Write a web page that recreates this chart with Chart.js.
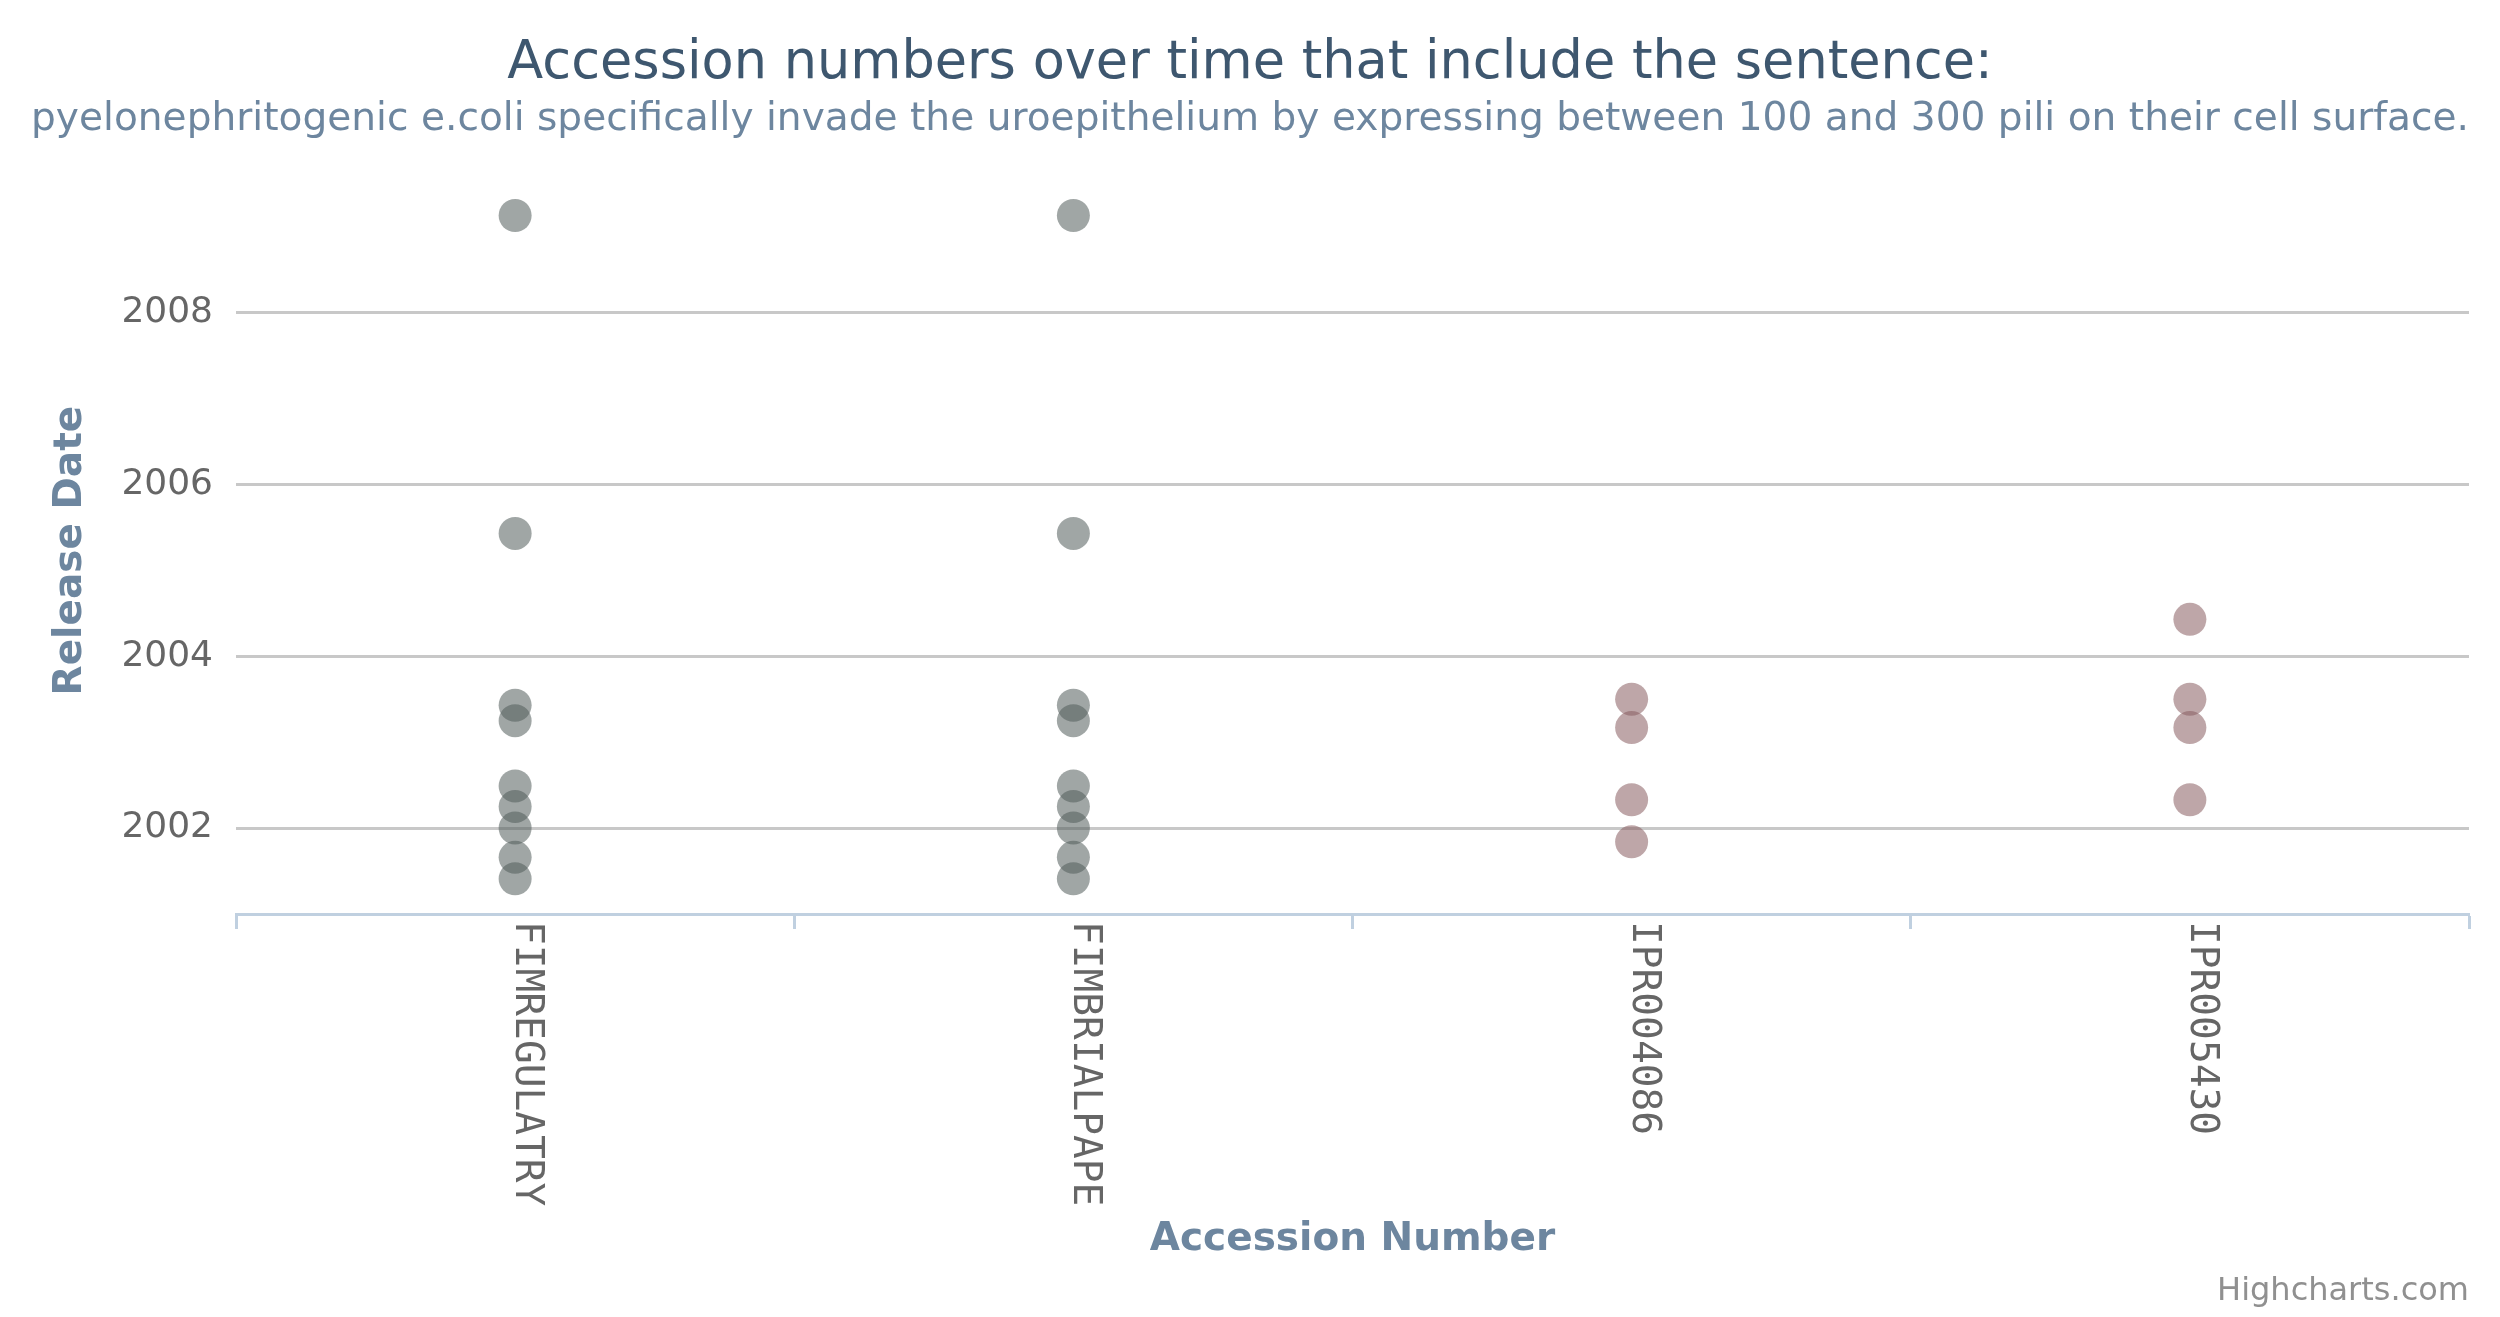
<!DOCTYPE html>
<html>
<head>
<meta charset="utf-8">
<script src="https://cdn.jsdelivr.net/npm/chart.js@4.4.1/dist/chart.umd.min.js"></script>
<style>
  body { margin: 0; background: #ffffff; }
  #wrap { width: 2500px; height: 1317px; }
</style>
</head>
<body>
<div id="wrap"><canvas id="grafico" width="2500" height="1317"></canvas></div>
<script>
// Data (release dates as decimal years)
const categories = ["FIMREGULATRY", "FIMBRIALPAPE", "IPR004086", "IPR005430"];
const fimregulatryDates = [2009.13, 2005.43, 2003.43, 2003.25, 2002.49, 2002.25, 2002.0, 2001.66, 2001.41];
const fimbrialpapeDates = [2009.13, 2005.43, 2003.43, 2003.25, 2002.49, 2002.25, 2002.0, 2001.66, 2001.41];
const ipr004086Dates = [2003.50, 2003.17, 2002.33, 2001.84];
const ipr005430Dates = [2004.43, 2003.50, 2003.17, 2002.33];
const yearTicks = [2002, 2004, 2006, 2008];

const FONT = "'DejaVu Sans', Verdana, sans-serif";

function points(cat, dates) {
  return dates.map(d => ({ x: cat, y: d }));
}

// x labels are drawn top-to-bottom like the original, plus the credits line
const extras = {
  id: "extras",
  afterDraw(chart) {
    const ctx = chart.ctx;
    const xs = chart.scales.x;
    ctx.save();
    ctx.fillStyle = "#666666";
    ctx.font = "39.5px 'DejaVu Sans Mono', monospace";
    ctx.textAlign = "left";
    ctx.textBaseline = "alphabetic";
    categories.forEach((c, i) => {
      ctx.save();
      ctx.translate(xs.getPixelForTick(i) + 1, xs.top + 7);
      ctx.rotate(Math.PI / 2);
      ctx.fillText(c, 0, 0);
      ctx.restore();
    });
    ctx.font = "32px " + FONT;
    ctx.fillStyle = "#909090";
    ctx.textAlign = "right";
    ctx.fillText("Highcharts.com", 2469, 1300);
    ctx.restore();
  }
};

new Chart(document.getElementById("grafico"), {
  type: "scatter",
  data: {
    labels: categories,
    datasets: [
      {
        label: "Fimbrial",
        data: points(categories[0], fimregulatryDates).concat(points(categories[1], fimbrialpapeDates)),
        backgroundColor: "rgba(82, 93, 91, 0.55)",
        borderWidth: 0,
        pointRadius: 16.5,
        pointHoverRadius: 16.5
      },
      {
        label: "InterPro",
        data: points(categories[2], ipr004086Dates).concat(points(categories[3], ipr005430Dates)),
        backgroundColor: "rgba(137, 93, 96, 0.55)",
        borderWidth: 0,
        pointRadius: 16.5,
        pointHoverRadius: 16.5
      }
    ]
  },
  options: {
    responsive: false,
    animation: false,
    devicePixelRatio: 1,
    layout: { padding: { top: 33, right: 31, bottom: 0, left: 31 } },
    scales: {
      x: {
        type: "category",
        labels: categories,
        offset: true,
        afterFit(s) { s.height = 403; },
        ticks: { display: false },
        grid: {
          offset: true,
          drawOnChartArea: false,
          drawTicks: true,
          tickLength: 15,
          tickWidth: 3,
          tickColor: "#C0D0E0"
        },
        border: { display: true, color: "#C0D0E0", width: 3 },
        title: {
          display: true,
          text: "Accession Number",
          color: "#6D869F",
          font: { family: FONT, size: 39, weight: "bold" },
          padding: { top: 0, bottom: 54 }
        }
      },
      y: {
        type: "linear",
        min: 2001,
        max: 2009.46,
        afterFit(s) { s.width = 205; },
        afterBuildTicks(s) { s.ticks = yearTicks.map(v => ({ value: v })); },
        ticks: {
          color: "#666666",
          font: { family: FONT, size: 36 },
          padding: 23,
          callback: v => String(v)
        },
        grid: { color: "#C8C8C8", lineWidth: 3, drawTicks: false },
        border: { display: false },
        title: {
          display: true,
          text: "Release Date",
          color: "#6D869F",
          font: { family: FONT, size: 39, weight: "bold" },
          padding: { top: 16, bottom: 0 }
        }
      }
    },
    plugins: {
      legend: { display: false },
      tooltip: { enabled: false },
      title: {
        display: true,
        text: "Accession numbers over time that include the sentence:",
        color: "#3E576F",
        font: { family: FONT, size: 52.5, weight: "normal" },
        padding: { top: 0, bottom: 0 }
      },
      subtitle: {
        display: true,
        text: "pyelonephritogenic e.coli specifically invade the uroepithelium by expressing between 100 and 300 pili on their cell surface.",
        color: "#6D869F",
        font: { family: FONT, size: 39.3, weight: "normal" },
        padding: { top: 0, bottom: 44 }
      }
    }
  },
  plugins: [extras]
});
</script>
</body>
</html>
